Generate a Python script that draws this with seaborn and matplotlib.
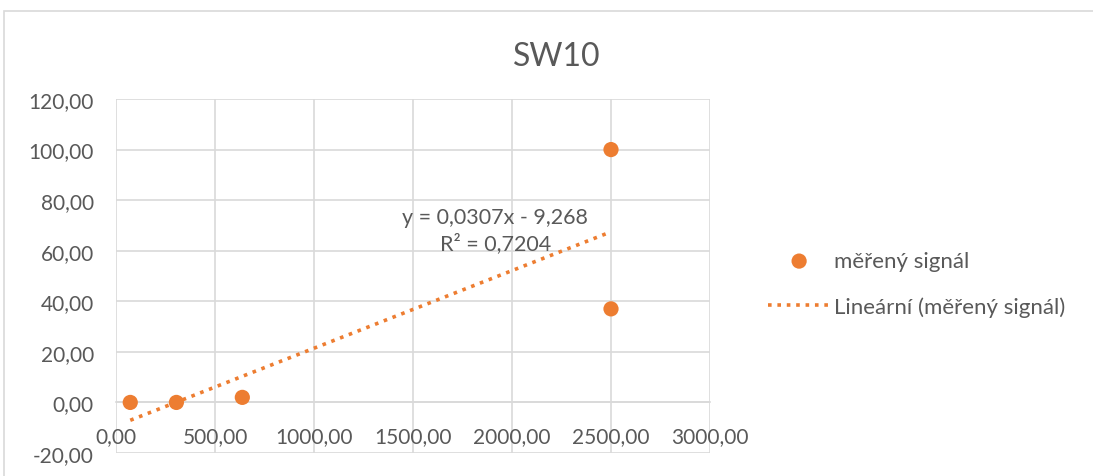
import matplotlib
matplotlib.use('Agg')
import matplotlib.pyplot as plt
import seaborn as sns
import numpy as np
import pandas as pd
from matplotlib.ticker import FuncFormatter, MultipleLocator
from matplotlib.patches import Rectangle

# data
conc = [72, 305, 638, 2500, 2500]
signal = [0.0, 0.0, 2.0, 100.0, 37.0]
slope = 0.0307
intercept = -9.268
r2 = 0.7204
series_name = 'měřený signál'
trend_name = 'Lineární (měřený signál)'
title = 'SW10'

orange = '#ED7D31'
grey_txt = '#595959'
grid_col = '#D9D9D9'

sns.set_theme(style='white')
plt.rcParams['font.family'] = ['Lato', 'DejaVu Sans']

df = pd.DataFrame({'x': conc, 'y': signal})
x_tr = np.array([min(conc), max(conc)])
df_tr = pd.DataFrame({'x': x_tr, 'y': slope * x_tr + intercept})

fig = plt.figure(figsize=(10.93, 4.77), dpi=100)
ax = fig.add_axes([116 / 1093, 1 - 454 / 477, (710 - 116) / 1093, (454 - 100) / 477])

sns.lineplot(data=df_tr, x='x', y='y', ax=ax, color=orange, linestyle=(0, (1, 1.6)),
             linewidth=2.6, label=trend_name, zorder=2)
sns.scatterplot(data=df, x='x', y='y', ax=ax, color=orange, s=120, edgecolor='none',
                label=series_name, zorder=3)

ax.set_xlim(0, 3000)
ax.set_ylim(-20, 120)
ax.xaxis.set_major_locator(MultipleLocator(500))
ax.yaxis.set_major_locator(MultipleLocator(20))
fmt = FuncFormatter(lambda v, p: f'{v:.2f}'.replace('.', ','))
ax.xaxis.set_major_formatter(fmt)
ax.yaxis.set_major_formatter(fmt)
ax.grid(True, color=grid_col, linewidth=1.2)
ax.set_axisbelow(True)
for s in ['top', 'right', 'left']:
    ax.spines[s].set_visible(False)
ax.spines['bottom'].set_position(('data', 0))
ax.spines['bottom'].set_color(grid_col)
ax.spines['bottom'].set_linewidth(1.2)
ax.tick_params(axis='both', length=0, labelsize=15, colors=grey_txt)
ax.tick_params(axis='y', pad=16)
ax.tick_params(axis='x', pad=17)
ax.set_xlabel('')
ax.set_ylabel('')

ax.text(1915, 68, f'y = {slope:.4f}x - {abs(intercept):.3f}'.replace('.', ',') + '\n'
        + f'R² = {r2:.4f}'.replace('.', ','),
        ha='center', va='center', fontsize=15.5, color=grey_txt, linespacing=1.3)

handles, labels = ax.get_legend_handles_labels()
order = [labels.index(series_name), labels.index(trend_name)]
ax.legend([handles[i] for i in order], [labels[i] for i in order],
          loc='center left', bbox_to_anchor=(768 / 1093, 1 - 285 / 477),
          bbox_transform=fig.transFigure, frameon=False, fontsize=16,
          borderpad=0, borderaxespad=0,
          handlelength=2.8, handletextpad=0.15, labelspacing=1.15, labelcolor=grey_txt)

fig.text(557 / 1093, 1 - 57 / 477, title, ha='center', va='center', fontsize=23, color=grey_txt)

fig.add_artist(Rectangle((4 / 1093, -0.1), 1.2, 1 - 12 / 477 + 0.1, transform=fig.transFigure,
                         fill=False, edgecolor='#D9D9D9', linewidth=1.2, clip_on=False))

fig.savefig('out.png', dpi=100, facecolor='w')
